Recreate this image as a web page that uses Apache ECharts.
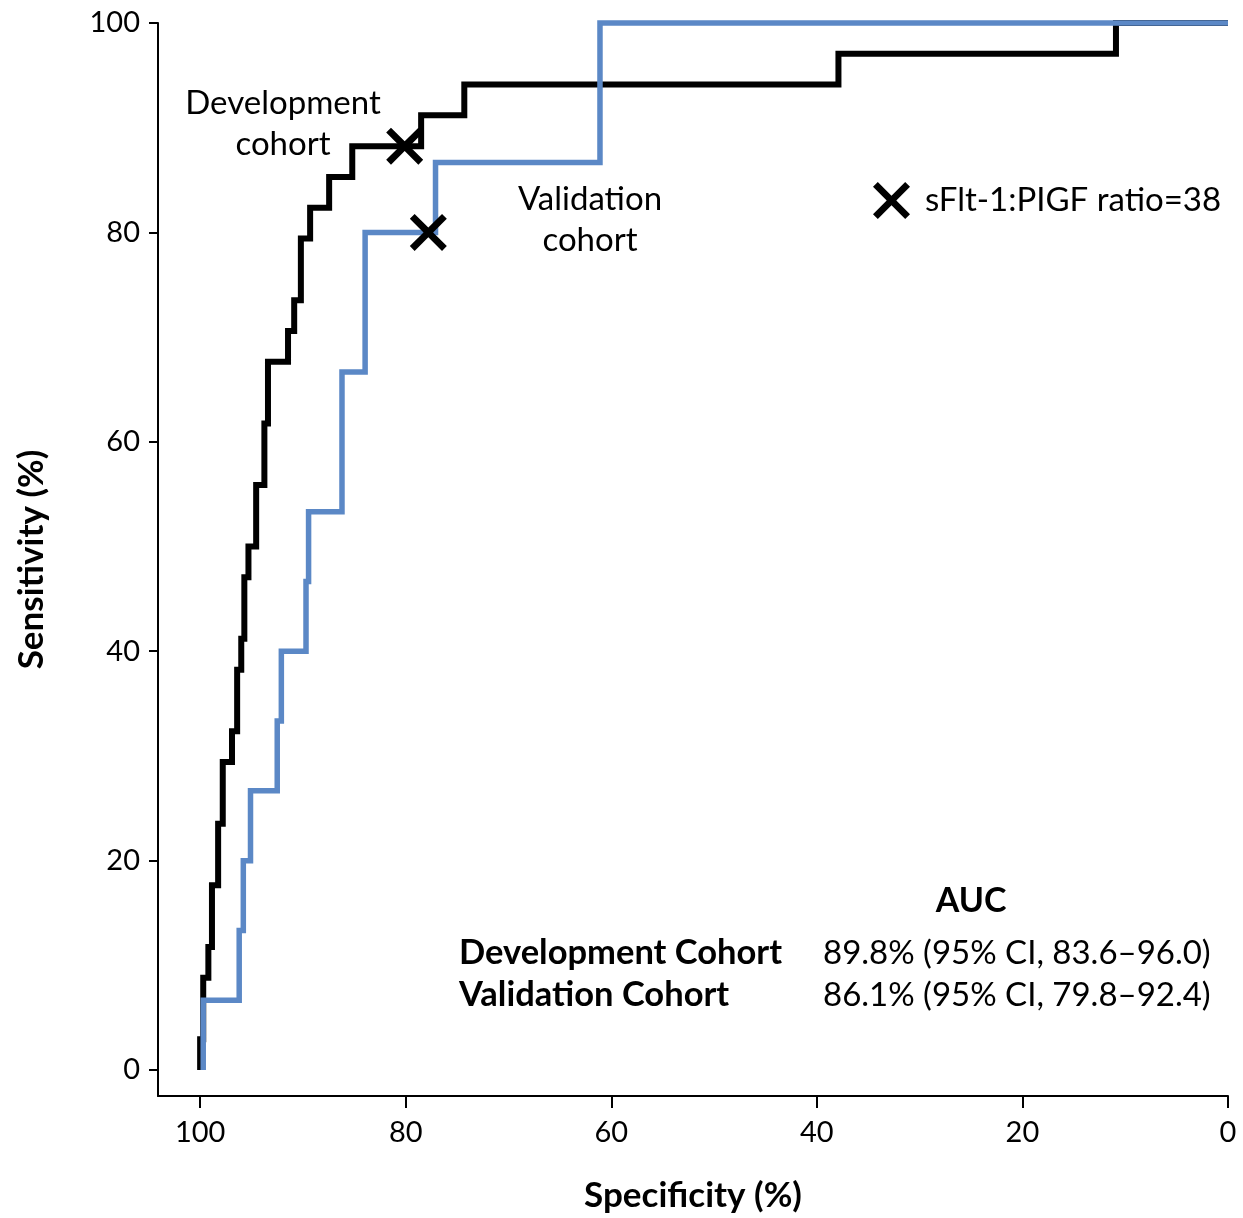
<!DOCTYPE html>
<html>
<head>
<meta charset="utf-8">
<title>ROC curves: sFlt-1:PlGF ratio</title>
<script src="https://cdn.jsdelivr.net/npm/echarts@6/dist/echarts.min.js"></script>
<style>
  html, body { margin: 0; padding: 0; background: #ffffff; }
  #chart { width: 1243px; height: 1218px; }
</style>
</head>
<body>
<div id="chart"></div>
<script>
// ROC operating points (specificity %, sensitivity %), development cohort
const devSpec = [100, 100, 99.7, 99.2, 98.85, 98.25, 97.8, 96.9, 96.4, 96.0, 95.7, 95.3, 94.55, 93.75, 93.4, 91.45, 90.85, 90.2, 89.3, 87.45, 85.2, 78.5, 74.3, 37.9, 10.9, 0];
const devSens = [0, 2.94, 8.82, 11.76, 17.65, 23.53, 29.41, 32.35, 38.24, 41.18, 47.06, 50.0, 55.88, 61.76, 67.65, 70.59, 73.53, 79.41, 82.35, 85.29, 88.24, 91.18, 94.12, 97.06, 100, 100];

// ROC operating points, validation cohort
const valSpec = [99.7, 99.7, 96.2, 95.8, 95.1, 92.5, 92.1, 89.7, 89.45, 86.2, 83.95, 77.1, 61.1, 0];
const valSens = [0, 6.67, 13.33, 20.0, 26.67, 33.33, 40.0, 46.67, 53.33, 66.67, 80.0, 86.67, 100, 100];

// Operating point at the ratio cutoff of 38 on each curve
const cutoffSpec = [80.1, 77.8];
const cutoffSens = [88.24, 80.0];
const cutoffName = 'sFlt-1:PIGF ratio=38';

// Axis ticks
const axisTicks = [0, 20, 40, 60, 80, 100];

// AUC summary table
const cohortNames = ['Development Cohort', 'Validation Cohort'];
const aucTexts = ['89.8% (95% CI, 83.6\u201396.0)', '86.1% (95% CI, 79.8\u201392.4)'];

const FONT = 'Lato, "Open Sans", sans-serif';
const xPath = 'path://M0 13 L13 0 L50 37 L87 0 L100 13 L63 50 L100 87 L87 100 L50 63 L13 100 L0 87 L37 50 Z';

const chart = echarts.init(document.getElementById('chart'), null, { renderer: 'canvas' });

const pairs = (xs, ys) => xs.map((x, i) => [x, ys[i]]);

const axisCommon = {
  type: 'value',
  splitLine: { show: false },
  axisLine: { show: true, onZero: false, lineStyle: { color: '#000', width: 2 } },
  axisTick: { show: true, customValues: axisTicks, lineStyle: { color: '#000', width: 2 } },
  axisLabel: { customValues: axisTicks, color: '#000', fontFamily: FONT, fontSize: 29 },
  nameLocation: 'middle',
  nameTextStyle: { color: '#000', fontFamily: FONT, fontSize: 35, fontWeight: 'bold' }
};

const option = {
  animation: false,
  backgroundColor: '#ffffff',
  grid: { left: 158, right: 15, top: 23, bottom: 121, containLabel: false },
  xAxis: Object.assign({}, axisCommon, {
    inverse: true,
    min: 0,
    max: 104.1,
    name: 'Specificity (%)',
    nameGap: 82,
    axisTick: Object.assign({}, axisCommon.axisTick, { length: 12 }),
    axisLabel: Object.assign({}, axisCommon.axisLabel, { margin: 22 })
  }),
  yAxis: Object.assign({}, axisCommon, {
    min: -2.48,
    max: 100,
    name: 'Sensitivity (%)',
    nameGap: 109,
    nameRotate: 90,
    axisTick: Object.assign({}, axisCommon.axisTick, { length: 9 }),
    axisLabel: Object.assign({}, axisCommon.axisLabel, { margin: 18 })
  }),
  legend: {
    data: [{ name: cutoffName, icon: xPath, itemStyle: { color: '#000', opacity: 1 } }],
    left: 873,
    top: 182,
    padding: 0,
    itemWidth: 37,
    itemHeight: 37,
    selectedMode: false,
    textStyle: { color: '#000', fontFamily: FONT, fontSize: 33, padding: [0, 0, 0, 10] }
  },
  series: [
    {
      name: 'Development cohort',
      type: 'line',
      step: 'end',
      data: pairs(devSpec, devSens),
      showSymbol: false,
      clip: false,
      z: 2,
      lineStyle: { color: '#000000', width: 6, join: 'miter' }
    },
    {
      name: 'Validation cohort',
      type: 'line',
      step: 'end',
      data: pairs(valSpec, valSens),
      showSymbol: false,
      clip: false,
      z: 3,
      lineStyle: { color: '#5b88c6', width: 5.5, join: 'miter' }
    },
    {
      name: cutoffName,
      type: 'scatter',
      data: pairs(cutoffSpec, cutoffSens),
      symbol: xPath,
      symbolSize: 37,
      z: 5,
      itemStyle: { color: '#000000', opacity: 1 }
    }
  ],
  graphic: [
    {
      type: 'text', x: 283, y: 124, z: 10,
      style: { text: 'Development\ncohort', textAlign: 'center', textVerticalAlign: 'middle',
               font: '33px ' + FONT, lineHeight: 41, fill: '#000' }
    },
    {
      type: 'text', x: 590, y: 220, z: 10,
      style: { text: 'Validation\ncohort', textAlign: 'center', textVerticalAlign: 'middle',
               font: '33px ' + FONT, lineHeight: 41, fill: '#000' }
    },
    {
      type: 'text', x: 971, y: 901, z: 10,
      style: { text: 'AUC', textAlign: 'center', textVerticalAlign: 'middle',
               font: 'bold 34px ' + FONT, fill: '#000' }
    }
  ].concat(cohortNames.map((n, i) => ({
    type: 'text', x: 459, y: 953 + i * 42, z: 10,
    style: { text: n, textAlign: 'left', textVerticalAlign: 'middle', font: 'bold 34.5px ' + FONT, fill: '#000' }
  }))).concat(aucTexts.map((t, i) => ({
    type: 'text', x: 823, y: 953 + i * 42, z: 10,
    style: { text: t, textAlign: 'left', textVerticalAlign: 'middle', font: '33px ' + FONT, fill: '#000' }
  })))
};

chart.setOption(option);
</script>
</body>
</html>
